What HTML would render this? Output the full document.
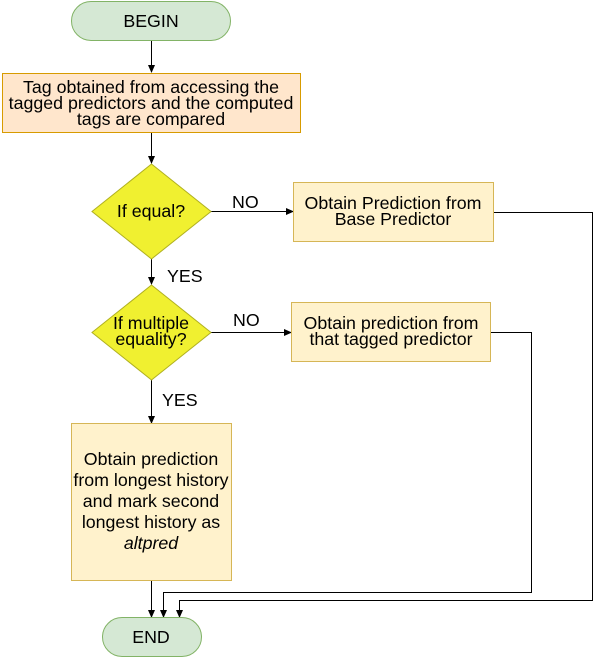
<!DOCTYPE html>
<html><head><meta charset="utf-8"><style>
html,body{margin:0;padding:0;background:#fff;}
svg{display:block;}
text{font-family:"Liberation Sans",Arial,sans-serif;font-size:17.8px;fill:#000;}
</style></head><body>
<svg width="600" height="659" viewBox="0 0 600 659" xmlns="http://www.w3.org/2000/svg">
<defs><marker id="a" markerWidth="8" markerHeight="8" refX="7" refY="4" orient="auto" markerUnits="userSpaceOnUse"><path d="M0,0.5 L8,4 L0,7.5 Z" fill="#000"/></marker></defs>
<g stroke="#000" stroke-width="1" fill="none">
<line x1="151.5" y1="41" x2="151.5" y2="72" marker-end="url(#a)"/>
<line x1="151.5" y1="133" x2="151.5" y2="163" marker-end="url(#a)"/>
<line x1="211" y1="211.5" x2="293" y2="211.5" marker-end="url(#a)"/>
<line x1="151.5" y1="259" x2="151.5" y2="284" marker-end="url(#a)"/>
<line x1="211" y1="332.5" x2="291" y2="332.5" marker-end="url(#a)"/>
<line x1="151.5" y1="380" x2="151.5" y2="423" marker-end="url(#a)"/>
<line x1="151.5" y1="581" x2="151.5" y2="617" marker-end="url(#a)"/>
<polyline points="494,212.5 592.5,212.5 592.5,600.5 179.5,600.5 179.5,617" marker-end="url(#a)"/>
<polyline points="491,332.5 531.5,332.5 531.5,592.5 163.5,592.5 163.5,617" marker-end="url(#a)"/>
</g>
<rect x="71.5" y="1.5" width="159" height="39" rx="19.5" fill="#d5e8d4" stroke="#82b366"/>
<text x="151" y="27" text-anchor="middle">BEGIN</text>
<rect x="2.5" y="73.5" width="298" height="59" fill="#ffe6cc" stroke="#d79b00"/>
<text x="151" y="93" text-anchor="middle">Tag obtained from accessing the</text>
<text x="151" y="109" text-anchor="middle">tagged predictors and the computed</text>
<text x="151" y="125" text-anchor="middle">tags are compared</text>
<polygon points="151.5,164 211,211.5 151.5,259 92,211.5" fill="#f0f030" stroke="#b0b020"/>
<text x="151" y="217" text-anchor="middle">If equal?</text>
<text x="232" y="208">NO</text>
<text x="167" y="282">YES</text>
<rect x="293.5" y="182.5" width="200" height="59" fill="#fff2cc" stroke="#d6b656"/>
<text x="393" y="209" text-anchor="middle">Obtain Prediction from</text>
<text x="393" y="225" text-anchor="middle">Base Predictor</text>
<polygon points="151.5,285 211,332.5 151.5,380 92,332.5" fill="#f0f030" stroke="#b0b020"/>
<text x="151" y="329" text-anchor="middle">If multiple</text>
<text x="151" y="345" text-anchor="middle">equality?</text>
<text x="233" y="326">NO</text>
<text x="162" y="406">YES</text>
<rect x="291.5" y="302.5" width="199" height="59" fill="#fff2cc" stroke="#d6b656"/>
<text x="391" y="329" text-anchor="middle">Obtain prediction from</text>
<text x="391" y="345" text-anchor="middle">that tagged predictor</text>
<rect x="71.5" y="423.5" width="160" height="157" fill="#fff2cc" stroke="#d6b656"/>
<text x="151" y="465" text-anchor="middle">Obtain prediction</text>
<text x="151" y="486" text-anchor="middle">from longest history</text>
<text x="151" y="507" text-anchor="middle">and mark second</text>
<text x="151" y="528" text-anchor="middle">longest history as</text>
<text x="151" y="549" text-anchor="middle" font-style="italic">altpred</text>
<rect x="102.5" y="617.5" width="99" height="39" rx="19.5" fill="#d5e8d4" stroke="#82b366"/>
<text x="151" y="643" text-anchor="middle">END</text>
</svg>
</body></html>
